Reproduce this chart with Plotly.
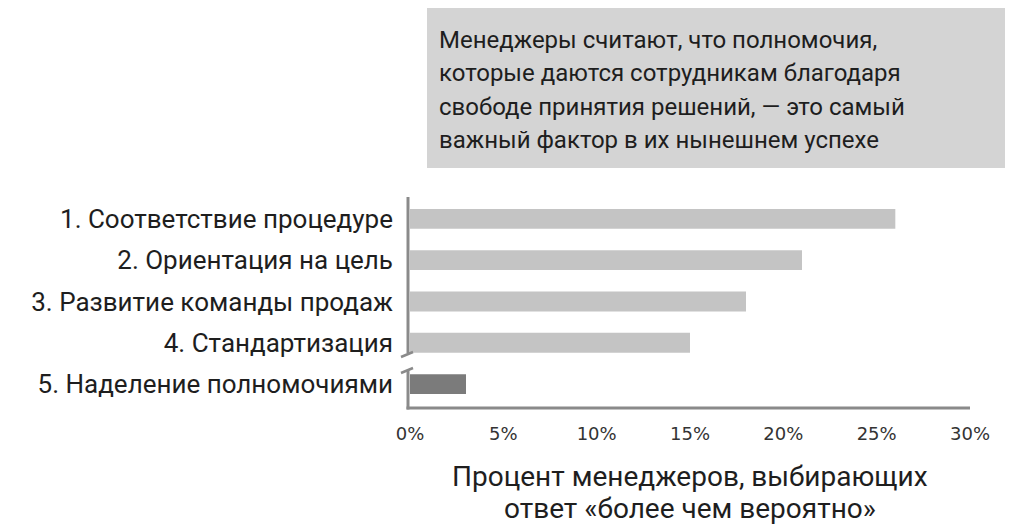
import plotly.graph_objects as go

categories = [
    "1. Соответствие процедуре",
    "2. Ориентация на цель",
    "3. Развитие команды продаж",
    "4. Стандартизация",
    "5. Наделение полномочиями",
]
values = [26, 21, 18, 15, 3]
bar_colors = ["#c4c4c4", "#c4c4c4", "#c4c4c4", "#c4c4c4", "#7b7b7b"]
x_ticks = [0, 5, 10, 15, 20, 25, 30]
x_tick_labels = ["0%", "5%", "10%", "15%", "20%", "25%", "30%"]
x_title_lines = ["Процент менеджеров, выбирающих", "ответ «более чем вероятно»"]
note_lines = [
    "Менеджеры считают, что полномочия,",
    "которые даются сотрудникам благодаря",
    "свободе принятия решений, — это самый",
    "важный фактор в их нынешнем успехе",
]

OFF = 8  # page body margin
W, H = 1013 - OFF, 524 - OFF
# plot area in window px
RL, RR, RT, RB = 410, 970, 197, 408


def px(xp):
    return (xp - RL) / (RR - RL)


def py(yp):
    return (RB - yp) / (RB - RT)


FONT = "Roboto, Noto Sans, sans-serif"
AXC = "#8a8a8a"

fig = go.Figure(go.Bar(
    x=values, y=categories, orientation="h",
    marker=dict(color=bar_colors, line=dict(width=0)),
    width=0.48, hoverinfo="skip",
))

shapes = [
    # text box
    dict(type="rect", xref="paper", yref="paper", x0=px(427), x1=px(1030), y0=py(168), y1=py(-20),
         fillcolor="#d4d4d4", line=dict(width=0), layer="below"),
    # upper vertical axis segment
    dict(type="line", xref="paper", yref="paper", x0=px(408), x1=px(408), y0=py(197), y1=py(353),
         line=dict(color=AXC, width=3)),
    dict(type="line", xref="paper", yref="paper", x0=px(401), x1=px(413), y0=py(357), y1=py(352),
         line=dict(color=AXC, width=2.5)),
    # lower vertical axis segment
    dict(type="line", xref="paper", yref="paper", x0=px(401), x1=px(413), y0=py(373), y1=py(368),
         line=dict(color=AXC, width=2.5)),
    dict(type="line", xref="paper", yref="paper", x0=px(408), x1=px(408), y0=py(370), y1=py(409.5),
         line=dict(color=AXC, width=3)),
    # horizontal axis
    dict(type="line", xref="paper", yref="paper", x0=px(406.5), x1=px(970), y0=py(408), y1=py(408),
         line=dict(color=AXC, width=3)),
]

annotations = []
for i, line in enumerate(note_lines):
    annotations.append(dict(
        xref="paper", yref="paper", x=px(437), y=py(40 + i * 33.3), xanchor="left", yanchor="middle",
        text=line, showarrow=False, align="left",
        font=dict(family=FONT, size=24, color="#1e1e1e"),
    ))
# x-axis title (two lines)
for i, line in enumerate(x_title_lines):
    annotations.append(dict(
        xref="paper", yref="paper", x=0.5, y=py(476 + i * 32), xanchor="center", yanchor="middle",
        text=line, showarrow=False, align="center",
        font=dict(family=FONT, size=28, color="#1e1e1e"),
    ))

fig.update_layout(
    width=W, height=H,
    margin=dict(l=RL - OFF, r=W - (RR - OFF), t=RT - OFF, b=H - (RB - OFF), pad=0, autoexpand=False),
    paper_bgcolor="white", plot_bgcolor="white",
    showlegend=False,
    shapes=shapes,
    annotations=annotations,
    xaxis=dict(
        range=[0, 30], tickvals=x_ticks, ticktext=x_tick_labels,
        showgrid=False, zeroline=False, showline=False, ticks="",
        tickfont=dict(family="DejaVu Sans, sans-serif", size=18, color="#333333"),
        ticklabelstandoff=13, automargin=False,
        fixedrange=True,
    ),
    yaxis=dict(
        categoryorder="array", categoryarray=categories,
        range=[4.58, -0.53],
        showgrid=False, zeroline=False, showline=False, ticks="",
        tickfont=dict(family=FONT, size=26, color="#1e1e1e"),
        ticklabelstandoff=16, automargin=False,
        fixedrange=True,
    ),
)

fig.write_html("out.html")
